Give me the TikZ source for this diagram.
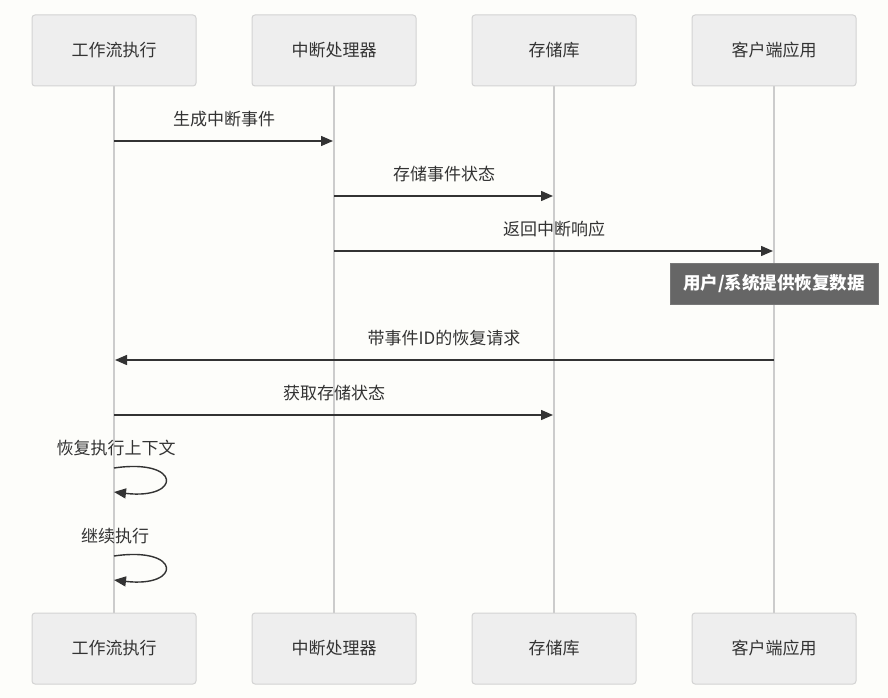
\documentclass[tikz,border=0pt]{standalone}
\usepackage{fontspec}
\setmainfont{Noto Sans CJK SC}
\usetikzlibrary{arrows.meta}
\definecolor{bg}{HTML}{FDFDFA}
\definecolor{actfill}{HTML}{EEEEEE}
\definecolor{actline}{HTML}{D3D3D3}
\definecolor{life}{HTML}{CCCCCC}
\definecolor{msg}{HTML}{333333}
\definecolor{notefill}{HTML}{666666}
\definecolor{notedraw}{HTML}{777777}
\newcommand{\lowtext}[1]{\raisebox{-2pt}{#1}}
\begin{document}
\begin{tikzpicture}[x=1pt,y=-1pt,
  actor/.style={draw=actline,fill=actfill,rounded corners=3pt,line width=1pt,minimum width=164pt,minimum height=71pt,inner sep=0pt,font=\fontsize{17}{20}\selectfont,text=msg},
  lifeline/.style={draw=life,line width=1.6pt},
  msgline/.style={draw=msg,line width=1.4pt,-{Triangle[length=12pt,width=10pt]}},
  msglabel/.style={font=\fontsize{17}{20}\selectfont,text=msg,inner sep=0pt},
  notebox/.style={draw=notedraw,fill=notefill,line width=1pt,minimum width=208pt,minimum height=41pt,inner sep=0pt,text=white,font=\fontsize{17.5}{20}\selectfont\bfseries}]
\fill[bg] (0,0) rectangle (888,698);
\useasboundingbox (0,0) rectangle (888,698);
% lifelines
\foreach \n/\x in {a/114,b/334,c/554,d/774}{
  \coordinate (\n top) at (\x,86);
  \coordinate (\n bot) at (\x,613);
  \draw[lifeline] (\n top) -- (\n bot);
}
% actors
\node[actor] (a1) at (114,50.5) {\lowtext{工作流执行}};
\node[actor] (b1) at (334,50.5) {\lowtext{中断处理器}};
\node[actor] (c1) at (554,50.5) {\lowtext{存储库}};
\node[actor] (d1) at (774,50.5) {\lowtext{客户端应用}};
\node[actor] (a2) at (114,648.5) {\lowtext{工作流执行}};
\node[actor] (b2) at (334,648.5) {\lowtext{中断处理器}};
\node[actor] (c2) at (554,648.5) {\lowtext{存储库}};
\node[actor] (d2) at (774,648.5) {\lowtext{客户端应用}};
% message anchors
\coordinate (m1s) at (114,141); \coordinate (m1e) at (333,141);
\coordinate (m2s) at (334,196); \coordinate (m2e) at (553,196);
\coordinate (m3s) at (334,251); \coordinate (m3e) at (773,251);
\coordinate (m4s) at (774,360); \coordinate (m4e) at (115,360);
\coordinate (m5s) at (114,415); \coordinate (m5e) at (553,415);
\draw[msgline] (m1s) -- (m1e);
\node[msglabel] (l1) at (224,119) {生成中断事件};
\draw[msgline] (m2s) -- (m2e);
\node[msglabel] (l2) at (444,174) {存储事件状态};
\draw[msgline] (m3s) -- (m3e);
\node[msglabel] (l3) at (554,229) {返回中断响应};
\node[notebox] (note) at (774,283.5) {\lowtext{用户/系统提供恢复数据}};
\draw[msgline] (m4s) -- (m4e);
\node[msglabel] (l4) at (444,338) {带事件ID的恢复请求};
\draw[msgline] (m5s) -- (m5e);
\node[msglabel] (l5) at (334,393) {获取存储状态};
% self loops
\coordinate (s1s) at (114,468); \coordinate (s1e) at (114,492);
\node[msglabel] (l6) at (116,448) {恢复执行上下文};
\draw[msgline] (s1s) .. controls (182,458) and (182,500) .. (s1e);
\coordinate (s2s) at (114,556); \coordinate (s2e) at (114,580);
\node[msglabel] (l7) at (115,536) {继续执行};
\draw[msgline] (s2s) .. controls (182,546) and (182,588) .. (s2e);
\end{tikzpicture}
\end{document}
